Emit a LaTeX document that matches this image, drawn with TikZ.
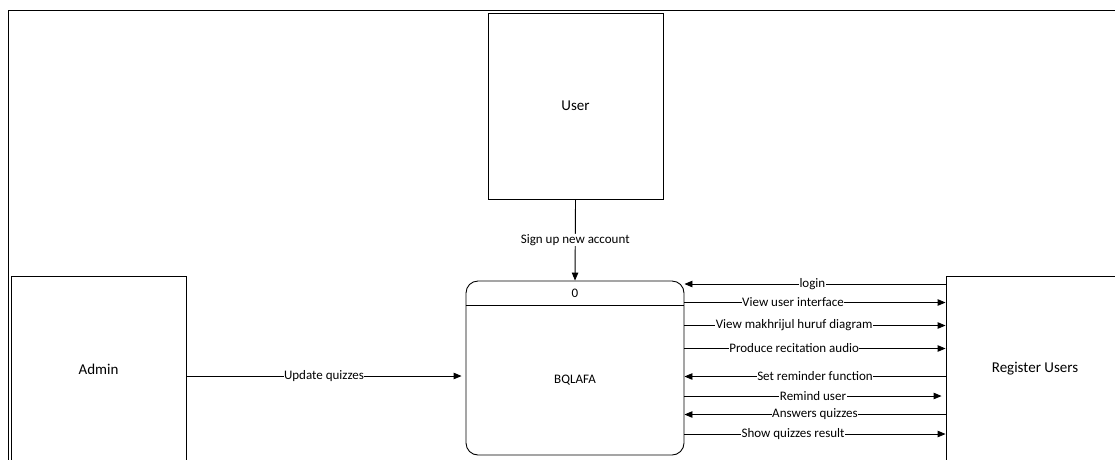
\documentclass[tikz,border=0pt]{standalone}
\usepackage{fontspec}
\setmainfont{Carlito}
\usetikzlibrary{arrows.meta,calc}
\begin{document}
\begin{tikzpicture}[x=1pt,y=-1pt,
  ent/.style={draw, line width=0.9pt, minimum width=175pt, minimum height=186pt, inner sep=0pt, font=\fontsize{15}{18}\selectfont},
  procbox/.style={draw, line width=0.9pt, rounded corners=12pt, minimum width=218pt, minimum height=174pt, inner sep=0pt},
  arr/.style={line width=0.9pt, -{Triangle[length=8pt,width=6.5pt]}},
  lbl/.style={fill=white, inner sep=0.5pt, font=\fontsize{13}{15}\selectfont},
  ptxt/.style={inner sep=0pt, font=\fontsize{13}{15}\selectfont}]
\useasboundingbox (0,0) rectangle (1115,459);
\clip (0,0) rectangle (1115,459);
% outer frame
\draw[line width=0.9pt] (8,470) -- (8,10.5) -- (1125,10.5);
% entities
\node[ent] (user) at (575.5,106) {User};
\node[ent] (admin) at (98.5,369) {Admin};
\node[ent, minimum width=178pt] (reg) at (1035,369) {Register Users};
% process
\node[procbox] (proc) at (575,368) {};
\draw[line width=0.9pt] (proc.west |- 0,305) -- (proc.east |- 0,305);
\node[ptxt] (pid) at (575,293) {0};
\node[ptxt] (pname) at (575,380) {BQLAFA};
% flows
\draw[arr] (user.south) -- node[lbl] (l0) {Sign up new account} (proc.north);
\draw[arr] (admin.east |- 0,376) -- node[lbl, pos=0.5] (l1) {Update quizzes} ($(proc.west |- 0,376)+(-4,0)$);
\draw[arr] (reg.west |- 0,284) -- node[lbl, pos=0.51] (r1) {login} (proc.east |- 0,284);
\draw[arr] (proc.east |- 0,302.5) -- node[lbl, pos=0.416] (r2) {View user interface} (reg.west |- 0,302.5);
\draw[arr] (proc.east |- 0,325.5) -- node[lbl, pos=0.42] (r3) {View makhrijul huruf diagram} (reg.west |- 0,325.5);
\draw[arr] (proc.east |- 0,348.5) -- node[lbl, pos=0.42] (r4) {Produce recitation audio} (reg.west |- 0,348.5);
\draw[arr] (reg.west |- 0,376.5) -- node[lbl, pos=0.5] (r5) {Set reminder function} (proc.east |- 0,376.5);
\draw[arr] (proc.east |- 0,396) -- node[lbl, pos=0.5] (r6) {Remind user} ($(reg.west |- 0,396)+(-4,0)$);
\draw[arr] (reg.west |- 0,414.5) -- node[lbl, pos=0.5] (r7) {Answers quizzes} (proc.east |- 0,414.5);
\draw[arr] (proc.east |- 0,434) -- node[lbl, pos=0.416] (r8) {Show quizzes result} (reg.west |- 0,434);
\end{tikzpicture}
\end{document}
